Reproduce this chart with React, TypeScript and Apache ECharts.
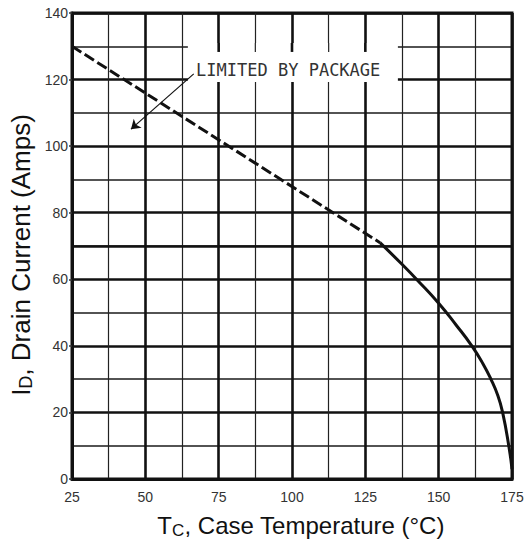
import React, { useEffect, useRef } from "react";
import * as echarts from "echarts";

// ---- axis scale ----
const X_MIN = 25;
const X_MAX = 175;
const X_STEP = 25;
const Y_MIN = 0;
const Y_MAX = 140;
const Y_STEP = 20;

// ---- data: package limit (dashed) ----
const packageLimitTemp = [25, 130];
const packageLimitCurrent = [130, 71];

// ---- data: thermal derating curve (solid) ----
const thermalTemp = [130, 137.5, 143, 150, 156, 161.3, 165, 167.8, 170.2, 171.8, 173.9, 175];
const thermalCurrent = [71, 64.5, 59.5, 52.8, 46.2, 40, 34.8, 30, 25, 20, 10, 3];

// ---- annotation text ----
const annotationText = "LIMITED BY PACKAGE";
const xTitleMain = "T";
const xTitleSub = "C";
const xTitleRest = ", Case Temperature (°C)";
const yTitleMain = "I";
const yTitleSub = "D";
const yTitleRest = ", Drain Current (Amps)";

// ---- layout (data-space anchors for annotation) ----
const ANNOT_TEXT_AT = [67.3, 122.9];
const ARROW_FROM = [66.5, 121.7];
const ARROW_TO = [45.1, 105.1];
const BOX = { t0: 64.5, t1: 136.1, iTop: 131, iBottom: 119.3, stubTo: 128.3 };

const SANS = "'Liberation Sans', Arial, Helvetica, sans-serif";
const MONO = "'DejaVu Sans Mono', 'Liberation Mono', monospace";
const INK = "#111";

export default function App() {
  const ref = useRef<HTMLDivElement>(null);

  useEffect(() => {
    document.body.style.margin = "0";
    if (!ref.current) return;
    const chart = echarts.init(ref.current, undefined, { renderer: "svg" });

    const option: any = {
      animation: false,
      backgroundColor: "#fff",
      grid: {
        left: 72,
        right: 17,
        top: 13,
        bottom: 65,
        show: true,
        borderColor: INK,
        borderWidth: 3,
        backgroundColor: "transparent",
      },
      xAxis: {
        type: "value",
        min: X_MIN,
        max: X_MAX,
        interval: X_STEP,
        axisLine: { show: true, lineStyle: { color: INK, width: 3 } },
        axisTick: { show: false },
        axisLabel: { margin: 11, fontSize: 14, color: "#333", fontFamily: SANS },
        splitLine: { show: true, lineStyle: { color: INK, width: 2.6 } },
        minorTick: { show: false, splitNumber: 2 },
        minorSplitLine: { show: true, lineStyle: { color: "#222", width: 1.2 } },
      },
      yAxis: {
        type: "value",
        min: Y_MIN,
        max: Y_MAX,
        interval: Y_STEP,
        axisLine: { show: true, lineStyle: { color: INK, width: 3 } },
        axisTick: { show: true, length: 3, lineStyle: { color: "#333", width: 1.5 } },
        axisLabel: { margin: 4, fontSize: 14, color: "#333", fontFamily: SANS },
        splitLine: { show: true, lineStyle: { color: INK, width: 2.6 } },
        minorTick: { show: false, splitNumber: 2 },
        minorSplitLine: { show: true, lineStyle: { color: "#1a1a1a", width: 1.5 } },
      },
      series: [
        {
          type: "line",
          data: packageLimitTemp.map((t, i) => [t, packageLimitCurrent[i]]),
          symbol: "none",
          z: 3,
          lineStyle: { color: INK, width: 3, type: [11, 4] },
          markLine: {
            silent: true,
            symbol: ["none", "none"],
            label: { show: false },
            lineStyle: { color: INK, width: 2.6, type: "solid" },
            data: [{ yAxis: 70 }],
          },
        },
        {
          type: "line",
          data: thermalTemp.map((t, i) => [t, thermalCurrent[i]]),
          symbol: "none",
          smooth: 0.5,
          z: 3,
          lineStyle: { color: INK, width: 3 },
        },
        {
          type: "line",
          data: [],
          z: 4,
          markLine: {
            silent: true,
            symbol: ["none", "arrow"],
            symbolSize: 9,
            label: { show: false },
            itemStyle: { color: INK },
            lineStyle: { color: INK, width: 1.2, type: "solid" },
            data: [[{ coord: ARROW_FROM }, { coord: ARROW_TO }]],
          },
        },
      ],
    };
    chart.setOption(option);

    const px = (p: number[]) => chart.convertToPixel({ gridIndex: 0 }, p) as number[];
    const [bx0, by0] = px([BOX.t0, BOX.iTop]);
    const [bx1, by1] = px([BOX.t1, BOX.iBottom]);
    const [, stubY] = px([BOX.t0, BOX.stubTo]);

    const stubs: any[] = [];
    for (let t = X_MIN; t <= X_MAX; t += X_STEP / 2) {
      if (t > BOX.t0 && t < BOX.t1) {
        const [sx] = px([t, 0]);
        const major = (t - X_MIN) % X_STEP === 0;
        stubs.push({
          type: "line",
          z: 2,
          shape: { x1: sx, y1: by0, x2: sx, y2: stubY },
          style: { stroke: major ? INK : "#222", lineWidth: major ? 2.6 : 1.2 },
        });
      }
    }
    const [tx, ty] = px(ANNOT_TEXT_AT);
    const gx0 = px([X_MIN, Y_MIN]);
    const gx1 = px([X_MAX, Y_MAX]);

    chart.setOption({
      graphic: [
        {
          type: "rect",
          z: 1,
          shape: { x: bx0, y: by0, width: bx1 - bx0, height: by1 - by0 },
          style: { fill: "#fff" },
        },
        ...stubs,
        {
          type: "text",
          z: 10,
          x: tx,
          y: ty,
          style: {
            text: annotationText,
            fontFamily: MONO,
            fontSize: 17,
            fill: "#333",
            align: "left",
            verticalAlign: "middle",
          },
        },
        {
          type: "text",
          z: 10,
          x: (gx0[0] + gx1[0]) / 2 + 9,
          y: 525,
          style: {
            text: `{m|${xTitleMain}}{s|${xTitleSub}}{m|${xTitleRest}}`,
            align: "center",
            verticalAlign: "middle",
            rich: {
              m: { fontSize: 24, fontFamily: SANS, fill: INK },
              s: { fontSize: 17, fontFamily: SANS, fill: INK, padding: [10, 0, 0, 0] },
            },
          },
        },
        {
          type: "text",
          z: 10,
          x: 21,
          y: 255,
          rotation: Math.PI / 2,
          style: {
            text: `{m|${yTitleMain}}{s|${yTitleSub}}{m|${yTitleRest}}`,
            align: "center",
            verticalAlign: "middle",
            rich: {
              m: { fontSize: 26, fontFamily: SANS, fill: INK },
              s: { fontSize: 18, fontFamily: SANS, fill: INK, padding: [10, 0, 0, 0] },
            },
          },
        },
      ],
    });

    return () => chart.dispose();
  }, []);

  return <div ref={ref} style={{ width: 529, height: 544 }} />;
}
